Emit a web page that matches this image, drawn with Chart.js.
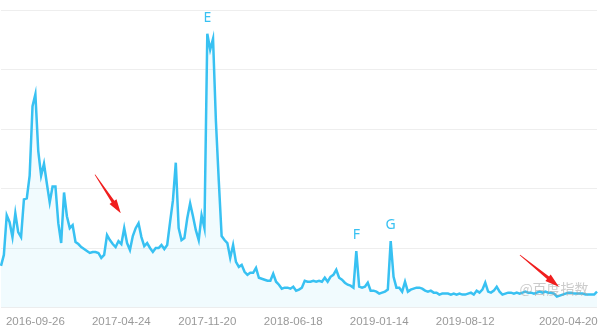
<!DOCTYPE html>
<html>
<head>
<meta charset="utf-8">
<script src="https://cdn.jsdelivr.net/npm/chart.js@4.4.1/dist/chart.umd.min.js"></script>
<style>
  html, body { margin: 0; padding: 0; background: #fff; }
  #wrap { width: 600px; height: 332px; }
</style>
</head>
<body>
<div id="wrap"><canvas id="chart"></canvas></div>
<script>
// weekly index values, first week starts 2016-07-04
const startWeek = '2016-07-04';
const values = [
  42, 53, 93, 86, 71, 95, 76, 71, 109, 110,
  133, 203, 215, 158, 133, 145, 125, 106, 122, 122,
  85, 65, 116, 92, 80, 83, 66, 64, 61, 59,
  57, 55, 56, 56, 55, 50, 53, 73, 68, 64,
  61, 67, 64, 80, 65, 58, 72, 80, 85, 71,
  62, 65, 60, 56, 60, 60, 63, 59, 63, 86,
  108, 146, 80, 68, 70, 90, 105, 92, 78, 68,
  93, 80, 276, 260, 271, 188, 128, 72, 68, 65,
  50, 63, 46, 41, 43, 36, 33, 35, 35, 40,
  30, 29, 28, 27, 27, 34, 26, 23, 19, 20,
  20, 19, 21, 17, 18, 20, 27, 26, 26, 27,
  26, 27, 26, 30, 26, 31, 33, 38, 30, 28,
  25, 23, 22, 20, 57, 21, 20, 21, 25, 17,
  17, 16, 14, 15, 16, 18, 67, 31, 20, 20,
  16, 26, 16, 18, 19, 20, 20, 19, 17, 16,
  17, 15, 15, 13, 14, 14, 14, 13, 14, 13,
  14, 13, 13, 14, 15, 13, 17, 15, 18, 25,
  16, 15, 17, 21, 16, 13, 14, 15, 15, 14,
  15, 14, 15, 16, 15, 15, 14, 15, 16, 15,
  16, 15, 15, 14, 11, 12, 13, 14, 15, 15,
  14, 14, 14, 14, 13, 13, 13, 13, 16
];
const tickLabels = ['2016-09-26', '2017-04-24', '2017-11-20', '2018-06-18', '2019-01-14', '2019-08-12', '2020-04-20'];
const markers = [
  { date: '2017-11-20', text: 'E' },
  { date: '2018-11-19', text: 'F' },
  { date: '2019-02-11', text: 'G' }
];
// red arrows, [week index, value] for tail and tip
const arrows = [
  { from: [32.8, 134], to: [41.8, 95] },
  { from: [181.1, 53], to: [194.7, 21] }
];

const lineColor = '#38c1f2';

function weekLabels(start, n) {
  const out = [];
  const t0 = Date.parse(start + 'T00:00:00Z');
  for (let i = 0; i < n; i++) {
    out.push(new Date(t0 + i * 7 * 86400000).toISOString().slice(0, 10));
  }
  return out;
}
const labels = weekLabels(startWeek, values.length);

const overlay = {
  id: 'overlay',
  afterDatasetsDraw(chart) {
    const ctx = chart.ctx;
    const xs = chart.scales.x, ys = chart.scales.y;
    const meta = chart.getDatasetMeta(0);
    ctx.save();

    // letter markers above peaks
    ctx.fillStyle = lineColor;
    ctx.font = '14px "Noto Sans", sans-serif';
    ctx.textAlign = 'center';
    ctx.textBaseline = 'middle';
    markers.forEach(m => {
      const i = labels.indexOf(m.date);
      const pt = meta.data[i];
      if (pt) ctx.fillText(m.text, pt.x, pt.y - 16);
    });

    // watermark
    ctx.fillStyle = 'rgba(160,160,160,0.55)';
    ctx.font = '14px "Noto Sans CJK SC", sans-serif';
    ctx.fillText('@百度指数', chart.chartArea.right - 43, chart.chartArea.bottom - 19);

    // red arrows
    ctx.fillStyle = '#f01e1e';
    arrows.forEach(a => {
      const x1 = xs.getPixelForValue(a.from[0]), y1 = ys.getPixelForValue(a.from[1]);
      const x2 = xs.getPixelForValue(a.to[0]), y2 = ys.getPixelForValue(a.to[1]);
      const len = Math.hypot(x2 - x1, y2 - y1);
      const dx = (x2 - x1) / len, dy = (y2 - y1) / len;
      const px = -dy, py = dx;
      const head = 14, neck = len - head;
      const nx = x1 + dx * neck, ny = y1 + dy * neck;
      ctx.beginPath();
      ctx.moveTo(x1 + px * 0.4, y1 + py * 0.4);
      ctx.lineTo(nx + px * 1.6, ny + py * 1.6);
      ctx.lineTo(nx + px * 4.2, ny + py * 4.2);
      ctx.lineTo(x2, y2);
      ctx.lineTo(nx - px * 4.2, ny - py * 4.2);
      ctx.lineTo(nx - px * 1.6, ny - py * 1.6);
      ctx.lineTo(x1 - px * 0.4, y1 - py * 0.4);
      ctx.closePath();
      ctx.fill();
    });
    ctx.restore();
  }
};

new Chart(document.getElementById('chart'), {
  type: 'line',
  data: {
    labels: labels,
    datasets: [{
      data: values,
      borderColor: lineColor,
      borderWidth: 2.5,
      backgroundColor: 'rgba(56,193,242,0.07)',
      fill: 'origin',
      pointRadius: 0,
      tension: 0
    }]
  },
  options: {
    responsive: true,
    maintainAspectRatio: false,
    animation: false,
    layout: { padding: { left: 1, right: 3, top: 10, bottom: 0 } },
    plugins: { legend: { display: false }, tooltip: { enabled: false } },
    scales: {
      x: {
        grid: { display: false, drawTicks: false },
        border: { display: false },
        ticks: {
          autoSkip: false,
          maxRotation: 0,
          padding: 7,
          color: '#999',
          font: { family: '"Liberation Sans", Arial, sans-serif', size: 11.5 },
          callback(value) {
            const l = labels[value];
            return tickLabels.includes(l) ? l : '';
          }
        },
        // the line runs edge to edge, so drop the side padding for labels
        afterFit(scale) {
          scale.paddingLeft = 0;
          scale.paddingRight = 0;
          scale.height = 24.5;
        }
      },
      y: {
        min: 0,
        max: 300,
        ticks: { display: false, stepSize: 60 },
        grid: { color: '#eeeeee', drawTicks: false },
        border: { display: false }
      }
    }
  },
  plugins: [overlay]
});
</script>
</body>
</html>
